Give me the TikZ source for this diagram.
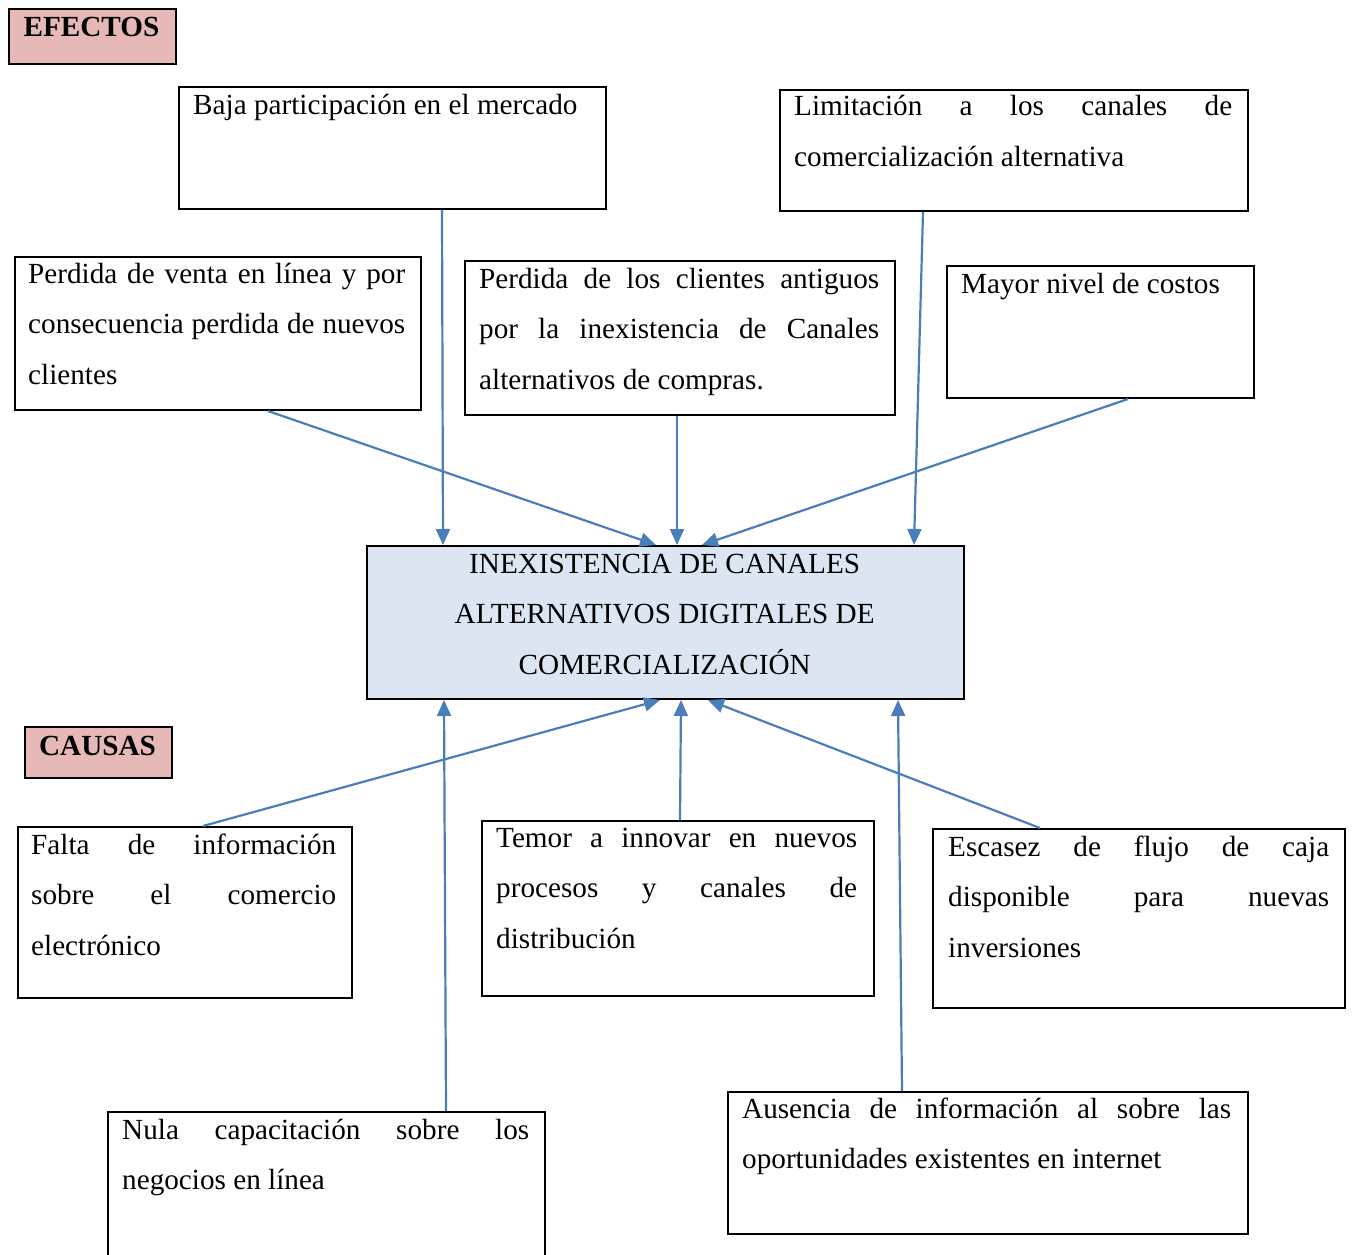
\documentclass[tikz,border=0pt]{standalone}
\usepackage{fontspec}
\setmainfont{Liberation Serif}
\usetikzlibrary{arrows.meta}

\definecolor{arrowblue}{RGB}{74,126,187}
\definecolor{labelpink}{RGB}{230,184,183}
\definecolor{corefill}{RGB}{220,230,242}

% one justified line of a given width
\newcommand\jline[2]{\hbox to #1{#2}}
% a block of lines set with a fixed line pitch
\newcommand\lines[1]{\vtop{\baselineskip=50.5pt\lineskiplimit=-100pt #1}}

\begin{document}
\begin{tikzpicture}[x=1pt,y=-1pt,
  box/.style={draw=black, line width=2pt, inner sep=0pt, anchor=north west},
  tag/.style={box, fill=labelpink},
  txt/.style={anchor=base west, inner sep=0pt},
  conn/.style={draw=arrowblue, line width=2.2pt, -{Triangle[length=16pt,width=14pt]}},
  font=\fontsize{29.2pt}{50.5pt}\selectfont]

\useasboundingbox (0,0) rectangle (1353,1255);
\clip (0,0) rectangle (1353,1255);

% section labels
\node[tag, minimum width=167, minimum height=55] (efectos) at (8,8) {};
\node[anchor=base, inner sep=0pt] (efectos-t) at (91.5,37) {\bfseries EFECTOS};
\node[tag, minimum width=147, minimum height=51] (causas) at (24,726) {};
\node[anchor=base, inner sep=0pt] (causas-t) at (97.5,755) {\bfseries CAUSAS};

% effects
\node[box, minimum width=427, minimum height=122] (baja) at (178,86) {};
\node[txt] (baja-t) at (193,114) {\lines{\hbox{Baja participación en el mercado}}};

\node[box, minimum width=468, minimum height=121] (limit) at (779,89) {};
\node[txt] (limit-t) at (794,116) {\lines{%
  \jline{438pt}{Limitación a los canales de}%
  \hbox{comercialización alternativa}}};

\node[box, minimum width=406, minimum height=153] (venta) at (14,256) {};
\node[txt] (venta-t) at (28,283) {\lines{%
  \jline{377pt}{Perdida de venta en línea y por}%
  \jline{377pt}{consecuencia perdida de nuevos}%
  \hbox{clientes}}};

\node[box, minimum width=430, minimum height=154] (clientes) at (464,260) {};
\node[txt] (clientes-t) at (479,288) {\lines{%
  \jline{400pt}{Perdida de los clientes antiguos}%
  \jline{400pt}{por la inexistencia de Canales}%
  \hbox{alternativos de compras.}}};

\node[box, minimum width=307, minimum height=132] (mayor) at (946,265) {};
\node[txt] (mayor-t) at (961,293) {\lines{\hbox{Mayor nivel de costos}}};

% central problem
\node[box, fill=corefill, minimum width=597, minimum height=153] (central) at (366,545) {};
\node[txt] (central-t) at (366,573) {\lines{%
  \jline{597pt}{\hfil INEXISTENCIA DE CANALES\hfil}%
  \jline{597pt}{\hfil ALTERNATIVOS DIGITALES DE\hfil}%
  \jline{597pt}{\hfil COMERCIALIZACIÓN\hfil}}};

% causes
\node[box, minimum width=334, minimum height=171] (falta) at (17,826) {};
\node[txt] (falta-t) at (31,854) {\lines{%
  \jline{305pt}{Falta de información}%
  \jline{305pt}{sobre el comercio}%
  \hbox{electrónico}}};

\node[box, minimum width=392, minimum height=175] (temor) at (481,820) {};
\node[txt] (temor-t) at (496,847) {\lines{%
  \jline{361pt}{Temor a innovar en nuevos}%
  \jline{361pt}{procesos y canales de}%
  \hbox{distribución}}};

\node[box, minimum width=412, minimum height=179] (escasez) at (932,828) {};
\node[txt] (escasez-t) at (948,856) {\lines{%
  \jline{381pt}{Escasez de flujo de caja}%
  \jline{381pt}{disponible para nuevas}%
  \hbox{inversiones}}};

\node[box, minimum width=437, minimum height=200] (nula) at (107,1111) {};
\node[txt] (nula-t) at (122,1139) {\lines{%
  \jline{407pt}{Nula capacitación sobre los}%
  \hbox{negocios en línea}}};

\node[box, minimum width=520, minimum height=142] (ausencia) at (727,1091) {};
\node[txt] (ausencia-t) at (742,1118) {\lines{%
  \jline{489pt}{Ausencia de información al sobre las}%
  \hbox{oportunidades existentes en internet}}};

% effects point down to the central problem
\draw[conn] ([xshift=264]baja.south west) -- ([xshift=77]central.north west);
\draw[conn] ([xshift=144]limit.south west) -- ([xshift=548]central.north west);
\draw[conn] ([xshift=254]venta.south west) -- ([xshift=290]central.north west);
\draw[conn] ([xshift=213]clientes.south west) -- ([xshift=311]central.north west);
\draw[conn] ([xshift=182]mayor.south west) -- ([xshift=336]central.north west);

% causes point up to the central problem
\draw[conn] ([xshift=186]falta.north west) -- ([xshift=294]central.south west);
\draw[conn] ([xshift=199]temor.north west) -- ([xshift=315]central.south west);
\draw[conn] ([xshift=108]escasez.north west) -- ([xshift=342]central.south west);
\draw[conn] ([xshift=339]nula.north west) -- ([xshift=78]central.south west);
\draw[conn] ([xshift=175]ausencia.north west) -- ([xshift=532]central.south west);

\end{tikzpicture}
\end{document}
